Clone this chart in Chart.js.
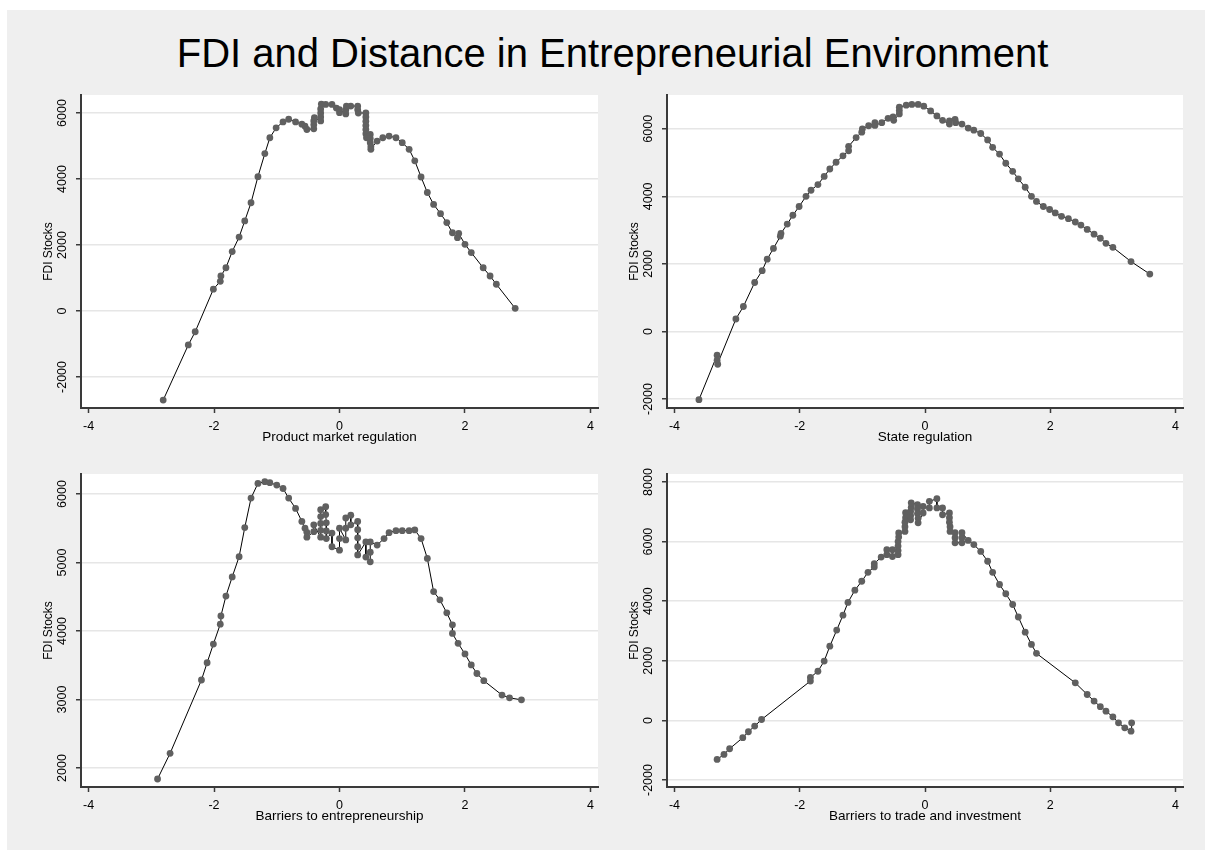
<!DOCTYPE html>
<html>
<head>
<meta charset="utf-8">
<script src="https://cdn.jsdelivr.net/npm/chart.js@4.4.0/dist/chart.umd.min.js"></script>
<style>
  body { margin: 0; background: #ffffff; width: 1205px; height: 850px; overflow: hidden; }
  #frame { position: absolute; left: 7px; top: 10px; width: 1198px; height: 840px; background: #efefef; }
  #judul { position: absolute; left: 10px; top: 33px; width: 1205px; text-align: center;
           font-family: "Liberation Sans", Arial, sans-serif; font-size: 40px; line-height: 40px; color: #000; }
  canvas { position: absolute; }
</style>
</head>
<body>
<div id="frame"></div>
<div id="judul">FDI and Distance in Entrepreneurial Environment</div>
<canvas id="c1" width="590" height="390" style="left:20px;top:70px"></canvas>
<canvas id="c2" width="590" height="390" style="left:606px;top:70px"></canvas>
<canvas id="c3" width="590" height="390" style="left:20px;top:449px"></canvas>
<canvas id="c4" width="590" height="390" style="left:606px;top:449px"></canvas>
<script>
// --- data ---
const xTicks = [-4, -2, 0, 2, 4];

// Product market regulation
const pmrX = [-2.81, -2.41, -2.30, -2.01, -1.90, -1.89, -1.81, -1.71, -1.60, -1.51, -1.41, -1.30, -1.19, -1.11, -1.01,
  -0.90, -0.81, -0.70, -0.60, -0.55, -0.52,
  -0.41, -0.41, -0.41, -0.40,
  -0.30, -0.30, -0.30, -0.30, -0.29,
  -0.22, -0.12, -0.05,
  0.00, 0.00,
  0.10, 0.10, 0.11,
  0.18,
  0.29, 0.29, 0.30,
  0.42, 0.42, 0.42, 0.42, 0.42, 0.42, 0.43,
  0.49, 0.49, 0.49, 0.50, 0.50,
  0.60, 0.69, 0.79, 0.90, 1.00, 1.11, 1.20, 1.30, 1.40, 1.50, 1.61, 1.71, 1.80, 1.88, 1.90, 2.00, 2.10, 2.29, 2.40,
  2.50, 2.80];
const pmrY = [-2700, -1030, -630, 660, 900, 1060, 1310, 1800, 2240, 2730, 3280, 4070, 4770, 5250, 5550,
  5730, 5810, 5730, 5660, 5600, 5500,
  5520, 5640, 5760, 5860,
  5760, 5880, 6000, 6120, 6270,
  6260, 6260, 6150,
  6010, 6100,
  5970, 6090, 6210,
  6210,
  6210, 6100, 6000,
  6000, 5880, 5750, 5620, 5500, 5370, 5250,
  5350, 5230, 5100, 4980, 4900,
  5150, 5250, 5300, 5250, 5100, 4900, 4550, 4060, 3590, 3230, 2950, 2680, 2370, 2220, 2350, 2020, 1770, 1310, 1060,
  810, 80];
const pmrTicks = [-2000, 0, 2000, 4000, 6000];

// State regulation
const stateX = [-3.61, -3.32, -3.32, -3.31, -3.02, -2.90, -2.72, -2.60, -2.52, -2.42, -2.31, -2.30, -2.20, -2.11,
  -2.01, -1.90, -1.82, -1.71, -1.61, -1.52, -1.42, -1.31, -1.22, -1.22, -1.10, -1.01, -1.00, -0.90, -0.80, -0.80,
  -0.69, -0.59, -0.51, -0.50, -0.41, -0.41, -0.41, -0.30, -0.21, -0.11, -0.02, 0.09, 0.19, 0.28, 0.39, 0.39, 0.48,
  0.49, 0.59, 0.69, 0.78, 0.89, 1.00, 1.08, 1.19, 1.29, 1.40, 1.49, 1.60, 1.70, 1.78, 1.89, 1.99, 2.08, 2.18,
  2.29, 2.40, 2.49, 2.59, 2.70, 2.80, 2.89, 3.00, 3.29, 3.59];
const stateY = [-2020, -700, -850, -970, 370, 740, 1450, 1800, 2140, 2460, 2820, 2900, 3180, 3440,
  3700, 4000, 4180, 4350, 4590, 4810, 5010, 5200, 5350, 5480, 5740, 5900, 6000, 6090, 6180, 6100,
  6180, 6310, 6350, 6250, 6440, 6540, 6640, 6700, 6720, 6720, 6670, 6530, 6380, 6250, 6140, 6230, 6280,
  6180, 6140, 6020, 5960, 5860, 5670, 5450, 5250, 4980, 4740, 4520, 4270, 4000, 3850, 3700, 3610, 3510, 3410,
  3340, 3240, 3150, 3020, 2880, 2760, 2610, 2490, 2070, 1700];
const stateTicks = [-2000, 0, 2000, 4000, 6000];

// Barriers to entrepreneurship
const entX = [-2.90, -2.70, -2.20, -2.11, -2.01, -1.90, -1.89, -1.81, -1.71, -1.60, -1.51, -1.41, -1.30, -1.19,
  -1.11, -1.00, -0.90, -0.81, -0.70, -0.60,
  -0.55, -0.52, -0.52,
  -0.41, -0.41,
  -0.30, -0.30, -0.30, -0.30, -0.30,
  -0.22, -0.22, -0.21, -0.21, -0.21,
  -0.12, -0.12,
  0.00, 0.00, 0.00,
  0.10, 0.10, 0.10,
  0.18, 0.18,
  0.29, 0.29, 0.29, 0.29, 0.29,
  0.42, 0.42,
  0.49, 0.49, 0.49,
  0.60, 0.71, 0.79, 0.90, 1.00, 1.11, 1.20, 1.30, 1.40, 1.50, 1.60, 1.71, 1.80, 1.80, 1.89, 2.00, 2.10, 2.19, 2.30,
  2.59, 2.71, 2.90];
const entY = [1840, 2215, 3285, 3537, 3810, 4100, 4220, 4510, 4790, 5085, 5510, 5940, 6155, 6180,
  6165, 6130, 6080, 5940, 5790, 5600,
  5500, 5440, 5370,
  5450, 5550,
  5370, 5470, 5570, 5670, 5770,
  5815, 5700, 5580, 5460, 5350,
  5430, 5230,
  5180, 5350, 5500,
  5330, 5500, 5650,
  5690, 5550,
  5600, 5480, 5360, 5230, 5110,
  5300, 5080,
  5010, 5150, 5300,
  5255, 5350, 5435, 5465, 5465, 5465, 5475, 5350, 5060, 4575, 4455, 4265, 4090, 3965, 3820, 3665, 3505, 3380, 3275,
  3065, 3025, 2995];
const entTicks = [2000, 3000, 4000, 5000, 6000];

// Barriers to trade and investment
const tradeX = [-3.32, -3.21, -3.12, -2.91, -2.82, -2.72, -2.61, -1.83, -1.83, -1.71, -1.61, -1.52, -1.41, -1.31,
  -1.23, -1.12, -1.01, -0.91, -0.81, -0.81, -0.70,
  -0.61, -0.61,
  -0.52, -0.52,
  -0.43, -0.43, -0.43, -0.43, -0.42, -0.42,
  -0.32, -0.32, -0.32, -0.31, -0.31,
  -0.23, -0.23, -0.23, -0.22, -0.22,
  -0.12, -0.12, -0.12, -0.11, -0.11,
  -0.03, -0.03,
  0.07, 0.07,
  0.19, 0.19,
  0.28, 0.28,
  0.39, 0.39, 0.39, 0.40, 0.40,
  0.48, 0.48, 0.48,
  0.59, 0.59, 0.59,
  0.69, 0.78, 0.89, 1.00, 1.08, 1.19, 1.29, 1.40, 1.49, 1.60, 1.70, 1.78, 2.40, 2.59, 2.70, 2.80, 2.89, 3.00,
  3.09, 3.19, 3.29, 3.30];
const tradeY = [-1310, -1140, -950, -580, -380, -190, 30, 1320, 1440, 1650, 1990, 2490, 3030, 3530,
  3960, 4370, 4670, 4970, 5150, 5260, 5480,
  5560, 5730,
  5730, 5500,
  5560, 5700, 5850, 6000, 6150, 6290,
  6340, 6500, 6650, 6800, 6970,
  6730, 6870, 7010, 7150, 7300,
  7240, 7090, 6940, 6780, 6630,
  6960, 7180,
  7130, 7350,
  7440, 7130,
  7130, 6900,
  6960, 6800, 6650, 6500, 6340,
  6300, 6130, 5960,
  5960, 6130, 6300,
  6040, 5900, 5670, 5340, 4970, 4560, 4250, 3890, 3470, 2960, 2550, 2250, 1260, 870, 650, 460, 310, 120,
  -80, -250, -360, -80];
const tradeTicks = [-2000, 0, 2000, 4000, 6000, 8000];

// --- gaya ---
const FONT = '"Liberation Sans", Arial, sans-serif';
const TICK_FONT = 12.5;

// latar putih untuk area plot
const plotBg = {
  id: 'plotBg',
  beforeDraw(chart) {
    const a = chart.chartArea;
    chart.ctx.save();
    chart.ctx.fillStyle = '#ffffff';
    chart.ctx.fillRect(a.left, a.top, a.right - a.left, a.bottom - a.top);
    chart.ctx.restore();
  }
};

// ukur label terlebar supaya label y (diputar) pas di tengah 18px dari sumbu
const ukur = document.createElement('canvas').getContext('2d');
ukur.font = TICK_FONT + 'px ' + FONT;
function padY(ticks) {
  let w = 0;
  ticks.forEach(t => { w = Math.max(w, ukur.measureText(String(t)).width); });
  return 18 - 5 - w / 2;
}

function buatGrafik(id, xs, ys, yTicks, yMin, yMax, judulX, kanan) {
  const titik = xs.map((x, i) => ({ x: x, y: ys[i] }));
  return new Chart(document.getElementById(id), {
    type: 'scatter',
    data: {
      datasets: [{
        data: titik,
        showLine: true,
        borderColor: '#000000',
        borderWidth: 1,
        pointRadius: 3.4,
        pointBackgroundColor: '#606060',
        pointBorderWidth: 0
      }]
    },
    options: {
      responsive: false,
      animation: false,
      events: [],
      layout: { padding: { left: 0, top: 25, right: kanan, bottom: 0 } },
      plugins: { legend: { display: false }, tooltip: { enabled: false } },
      scales: {
        x: {
          type: 'linear',
          min: -4.12,
          max: 4.12,
          afterBuildTicks: s => { s.ticks = xTicks.map(v => ({ value: v })); },
          afterFit: s => { s.height = 52; },
          ticks: { color: '#000', font: { family: FONT, size: TICK_FONT }, padding: 6,
                   callback: v => String(v) },
          grid: { drawOnChartArea: false, drawTicks: true, tickLength: 5, tickColor: '#3a3a3a', tickWidth: 1.5 },
          border: { color: '#3a3a3a', width: 2 },
          title: { display: true, text: judulX, color: '#000',
                   font: { family: FONT, size: 13.5 }, padding: { top: 0, bottom: 15 } }
        },
        y: {
          min: yMin,
          max: yMax,
          afterBuildTicks: s => { s.ticks = yTicks.map(v => ({ value: v })); },
          afterFit: s => { s.width = 61; },
          ticks: { color: '#000', font: { family: FONT, size: TICK_FONT },
                   minRotation: 90, maxRotation: 90, crossAlign: 'center', padding: padY(yTicks),
                   callback: v => String(v) },
          grid: { color: '#e6e6e6', lineWidth: 1.5, drawTicks: true, tickLength: 5,
                  tickColor: '#3a3a3a', tickWidth: 1.5 },
          border: { color: '#3a3a3a', width: 2 },
          title: { display: true, text: 'FDI Stocks', color: '#000',
                   font: { family: FONT, size: 12 }, padding: { top: 21, bottom: 0 } }
        }
      }
    },
    plugins: [plotBg]
  });
}

buatGrafik('c1', pmrX, pmrY, pmrTicks, -2940, 6545, 'Product market regulation', 12);
buatGrafik('c2', stateX, stateY, stateTicks, -2265, 7000, 'State regulation', 13);
buatGrafik('c3', entX, entY, entTicks, 1723, 6292, 'Barriers to entrepreneurship', 12);
buatGrafik('c4', tradeX, tradeY, tradeTicks, -2234, 8268, 'Barriers to trade and investment', 13);
</script>
</body>
</html>
